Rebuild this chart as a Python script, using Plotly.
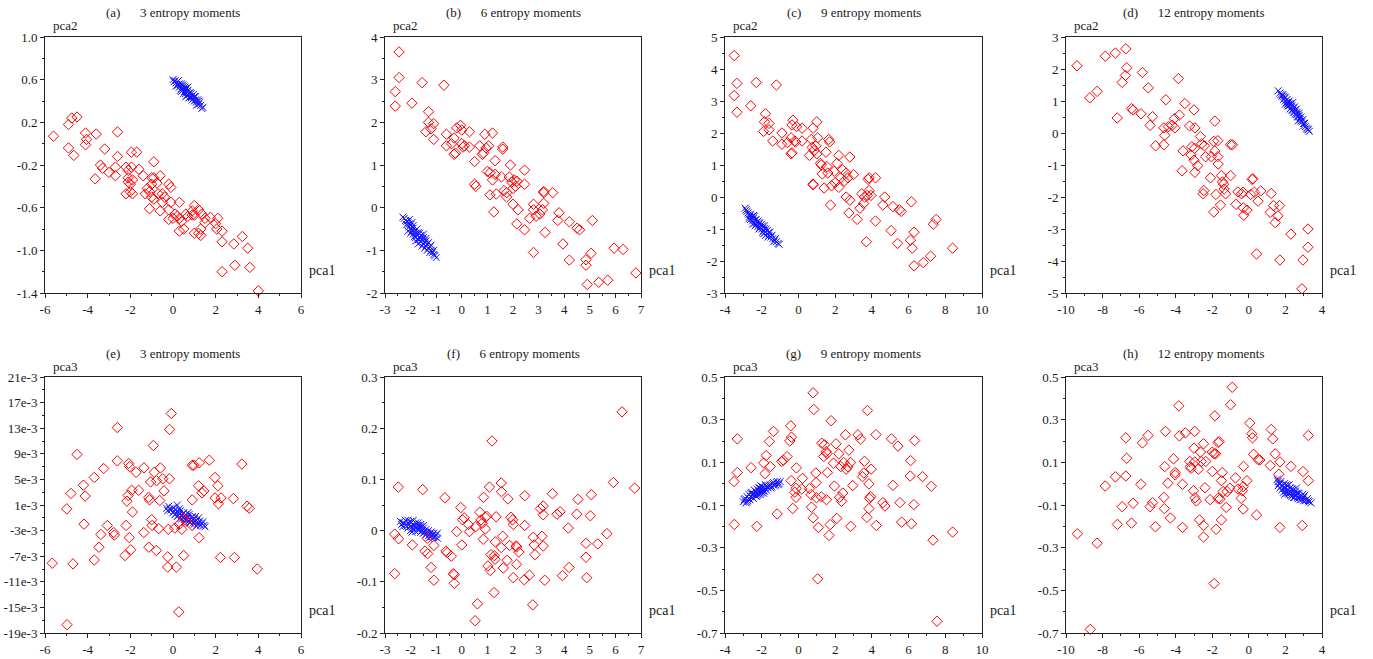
import plotly.graph_objects as go

W, H = 1373, 659

# ---------------- data ----------------
A_RED = [(-5.6,0.07),(-4.9,0.18),(-4.75,0.24),(-4.5,0.25),(-4.9,-0.04),(-4.65,-0.11),(-4.1,0.1),(-4.05,0.04),
 (-4.1,-0.01),(-3.6,0.09),(-3.2,-0.05),(-2.6,0.11),(-2.6,-0.12),(-3.4,-0.2),(-3.3,-0.23),(-3.65,-0.33),(-3.0,-0.27),
 (-2.7,-0.22),(-2.7,-0.3),(-2.2,-0.22),(-2.1,-0.25),(-2.1,-0.32),(-2.1,-0.36),(-2.0,-0.38),(-1.9,-0.34),(-1.95,-0.22),
 (-1.95,-0.08),(-1.7,-0.08),(-1.6,-0.24),(-1.4,-0.3),(-2.2,-0.47),(-2.0,-0.45),(-1.9,-0.47),(-1.3,-0.47),(-1.2,-0.42),
 (-1.1,-0.45),(-1.0,-0.32),(-1.0,-0.38),(-0.9,-0.17),(-0.9,-0.32),(-0.75,-0.37),(-0.6,-0.3),(-1.0,-0.5),(-0.9,-0.52),
 (-0.7,-0.47),(-0.5,-0.47),(-0.4,-0.5),(-0.5,-0.55),(-0.2,-0.38),(-0.1,-0.41),(-0.1,-0.55),(-1.1,-0.61),(-0.6,-0.63),
 (-0.2,-0.62),(-0.2,-0.71),(0.0,-0.7),(0.3,-0.55),(0.1,-0.66),(0.2,-0.68),(0.3,-0.7),(0.4,-0.73),(0.3,-0.82),(0.5,-0.8),
 (0.7,-0.68),(0.9,-0.63),(1.0,-0.58),(1.0,-0.67),(1.2,-0.62),(1.35,-0.66),(1.5,-0.74),(1.3,-0.8),(1.0,-0.84),(1.2,-0.84),
 (1.3,-0.86),(1.5,-0.7),(1.75,-0.69),(2.0,-0.75),(2.1,-0.7),(2.05,-0.8),(2.3,-0.82),(2.3,-0.92),(2.85,-0.94),(3.25,-0.87),
 (3.5,-0.98),(2.9,-1.14),(3.6,-1.16),(2.3,-1.2),(4.0,-1.38),(0.9,-0.67),(0.6,-0.66)]
A_BLUE = [(0.0,0.60),(0.1,0.59),(0.15,0.57),(0.2,0.58),(0.25,0.55),(0.3,0.56),(0.3,0.53),(0.35,0.54),(0.4,0.52),
 (0.45,0.55),(0.45,0.50),(0.5,0.51),(0.55,0.49),(0.6,0.52),(0.6,0.47),(0.65,0.49),(0.7,0.46),(0.7,0.50),(0.75,0.47),
 (0.8,0.44),(0.85,0.47),(0.85,0.43),(0.9,0.45),(0.95,0.42),(1.0,0.44),(1.0,0.40),(1.05,0.41),(1.1,0.39),(1.15,0.41),
 (1.2,0.37),(1.3,0.36),(1.4,0.34),(0.55,0.53),(0.75,0.43),(0.35,0.50),
 (0.05,0.58),(0.2,0.55),(0.25,0.59),(0.4,0.56),(0.5,0.54),(0.5,0.47),(0.65,0.52),(0.65,0.45),(0.8,0.48),(0.9,0.41),
 (0.95,0.46),(1.05,0.44),(1.1,0.36),(1.25,0.39),(1.35,0.33),(0.4,0.49),(0.6,0.44),(0.7,0.53),(1.2,0.40),(0.15,0.54)]

B_RED = [(-2.45,3.65),(-2.45,3.05),(-2.6,2.72),(-2.6,2.38),(-1.55,2.93),(-1.95,2.45),(-0.7,2.87),(-1.3,2.25),(-1.3,2.0),
 (-1.2,1.85),(-1.1,1.97),(-1.4,1.78),(-1.1,1.6),(-0.6,1.72),(-0.6,1.45),(-0.4,1.5),(-0.3,1.63),(-0.3,1.25),(-0.25,1.28),
 (-0.2,1.87),(-0.05,1.93),(0.0,1.82),(0.0,1.5),(0.05,1.42),(0.1,1.45),(0.3,1.78),(0.3,1.42),(0.5,1.08),(0.5,0.55),
 (0.55,0.5),(0.7,1.45),(0.8,1.25),(0.85,1.28),(0.9,1.72),(0.95,1.4),(1.05,1.45),(1.2,1.75),(1.3,1.1),(1.0,0.85),(1.1,0.82),
 (1.2,0.65),(1.3,0.78),(1.1,0.3),(1.35,0.32),(1.25,-0.1),(1.55,0.72),(1.6,1.37),(1.6,1.42),(1.65,0.4),(1.75,0.35),
 (1.75,0.25),(1.85,0.72),(1.9,1.0),(1.95,0.6),(2.0,0.45),(2.05,0.65),(2.1,0.5),(2.15,0.62),(2.0,0.08),(2.2,-0.05),
 (2.15,-0.38),(2.45,0.88),(2.45,0.55),(2.45,-0.52),(2.65,-0.25),(2.8,0.08),(2.8,-0.05),(2.8,-1.05),(2.9,-0.2),(3.05,-0.15),
 (3.15,-0.05),(3.2,0.1),(3.2,0.35),(3.2,0.38),(3.25,-0.58),(3.55,0.35),(3.75,-0.3),(3.8,-0.12),(3.95,-0.85),(4.2,-0.33),
 (4.2,-1.23),(4.5,-0.48),(4.6,-0.52),(4.85,-1.22),(4.85,-1.35),(4.9,-1.8),(5.05,-1.07),(5.1,-0.3),(5.35,-1.75),(5.7,-1.7),
 (5.95,-0.95),(6.3,-0.98),(6.8,-1.53)]
B_BLUE = [(-2.3,-0.22),(-2.2,-0.3),(-2.15,-0.4),(-2.1,-0.35),(-2.05,-0.45),(-2.0,-0.5),(-2.0,-0.4),(-1.95,-0.55),
 (-1.9,-0.48),(-1.9,-0.62),(-1.85,-0.55),(-1.8,-0.6),(-1.8,-0.7),(-1.75,-0.65),(-1.7,-0.58),(-1.7,-0.75),(-1.65,-0.7),
 (-1.6,-0.65),(-1.6,-0.8),(-1.55,-0.75),(-1.5,-0.7),(-1.5,-0.85),(-1.45,-0.8),(-1.4,-0.9),(-1.35,-0.85),(-1.3,-0.95),
 (-1.25,-0.92),(-1.2,-1.0),(-1.15,-1.05),(-1.1,-1.1),(-1.0,-1.17),(-2.1,-0.55),(-1.4,-0.72),(-1.95,-0.35),
 (-2.25,-0.25),(-2.15,-0.32),(-2.05,-0.38),(-2.0,-0.6),(-1.9,-0.42),(-1.85,-0.68),(-1.75,-0.5),(-1.7,-0.85),(-1.65,-0.6),
 (-1.6,-0.72),(-1.55,-0.9),(-1.5,-0.62),(-1.45,-0.95),(-1.4,-0.78),(-1.35,-1.0),(-1.3,-0.82),(-1.25,-1.05),(-1.2,-0.88),
 (-1.1,-1.0),(-1.05,-1.12),(-1.8,-0.78),(-2.05,-0.28)]

C_RED = [(-3.5,4.42),(-3.35,3.55),(-3.5,3.17),(-3.35,2.65),(-2.3,3.58),(-1.2,3.5),(-2.6,2.85),(-1.8,2.6),(-1.85,2.35),
 (-1.9,2.05),(-1.6,2.3),(-1.6,2.1),(-1.4,1.75),(-0.9,2.0),(-0.9,1.65),(-0.6,1.7),(-0.4,1.85),(-0.35,2.25),(-0.3,2.4),
 (-0.1,2.2),(-0.2,1.75),(-0.15,1.72),(0.2,2.15),(0.2,1.75),(-0.4,1.35),(-0.35,1.38),(0.6,1.3),(0.8,2.15),(0.7,1.8),
 (0.75,1.55),(0.85,1.45),(0.95,1.6),(1.0,2.35),(1.05,1.85),(1.0,1.35),(1.2,1.05),(1.25,1.0),(1.3,0.72),(0.8,0.4),
 (0.8,0.38),(1.4,0.28),(1.5,1.4),(1.55,0.95),(1.6,0.75),(1.65,1.8),(1.7,1.72),(1.8,0.35),(1.75,-0.25),(1.95,0.8),
 (2.0,0.45),(2.1,1.05),(2.2,1.3),(2.2,0.3),(2.3,0.6),(2.4,0.85),(2.5,0.5),(2.6,0.0),(2.6,0.75),(2.7,0.6),(2.75,-0.5),
 (2.8,1.25),(2.8,-0.1),(3.0,0.7),(3.2,-0.7),(3.35,-0.35),(3.45,0.1),(3.55,-0.2),(3.6,0.0),(3.75,0.05),(3.8,0.55),
 (3.85,0.2),(3.95,0.05),(3.85,0.6),(3.7,-1.4),(4.2,0.6),(4.2,-0.75),(4.6,-0.25),(4.7,0.0),(5.05,-1.05),(5.15,-0.3),
 (5.4,-1.45),(5.5,-0.4),(5.6,-0.45),(6.1,-1.35),(6.15,-0.15),(6.2,-1.6),(6.3,-1.1),(6.3,-2.15),(6.8,-2.05),(7.2,-1.85),
 (7.35,-0.85),(7.5,-0.7),(8.4,-1.6)]
C_BLUE = [(-2.9,-0.35),(-2.8,-0.45),(-2.7,-0.55),(-2.65,-0.6),(-2.6,-0.7),(-2.55,-0.62),(-2.5,-0.75),(-2.45,-0.68),
 (-2.4,-0.82),(-2.35,-0.72),(-2.3,-0.85),(-2.25,-0.78),(-2.2,-0.92),(-2.15,-0.8),(-2.1,-0.95),(-2.05,-0.88),(-2.0,-1.0),
 (-1.95,-0.9),(-1.9,-1.05),(-1.85,-0.98),(-1.8,-1.1),(-1.75,-1.0),(-1.7,-1.15),(-1.6,-1.2),(-1.55,-1.1),(-1.5,-1.25),
 (-1.4,-1.3),(-1.3,-1.35),(-1.2,-1.4),(-1.05,-1.48),(-2.4,-0.6),(-1.9,-1.15),
 (-2.85,-0.4),(-2.75,-0.5),(-2.7,-0.68),(-2.6,-0.55),(-2.5,-0.85),(-2.45,-0.58),(-2.35,-0.9),(-2.3,-0.7),(-2.2,-0.75),
 (-2.15,-1.0),(-2.1,-0.82),(-2.0,-0.85),(-1.95,-1.1),(-1.85,-0.9),(-1.8,-1.2),(-1.7,-1.05),(-1.65,-1.25),(-1.6,-1.1),
 (-1.45,-1.2),(-1.35,-1.4),(-1.25,-1.3),(-1.1,-1.45)]

D_RED = [(-9.4,2.1),(-8.7,1.1),(-8.3,1.3),(-7.85,2.4),(-7.3,2.5),(-6.73,2.63),(-6.68,2.04),(-6.75,1.8),(-6.93,1.58),
 (-7.2,0.47),(-6.42,0.76),(-6.33,0.72),(-5.82,1.89),(-5.5,1.41),(-5.9,0.6),(-5.27,0.51),(-5.4,0.24),(-5.1,-0.4),
 (-4.54,1.04),(-4.65,0.16),(-4.6,-0.07),(-4.65,-0.37),(-4.4,0.2),(-4.2,0.24),(-4.04,0.16),(-3.85,1.7),(-3.8,0.56),
 (-4.07,0.45),(-3.5,0.92),(-3.6,-0.56),(-3.65,-1.18),(-3.0,0.72),(-3.24,0.22),(-2.95,0.16),(-3.12,-0.43),(-3.16,-0.69),
 (-2.97,-0.48),(-3.0,-0.85),(-2.95,-1.23),(-2.8,-1.02),(-2.65,-0.11),(-2.58,-0.34),(-2.43,-0.4),(-2.37,-0.74),
 (-2.46,-1.8),(-2.5,-1.9),(-2.1,-1.4),(-2.05,-0.74),(-1.86,0.37),(-1.92,-0.26),(-1.86,-0.56),(-1.7,-0.74),(-1.68,-0.97),
 (-1.7,-0.24),(-1.92,-2.47),(-1.8,-1.92),(-1.5,-1.33),(-1.44,-1.53),(-1.38,-1.6),(-1.35,-1.75),(-1.55,-2.25),(-1.27,-1.9),
 (-1.0,-0.36),(-0.9,-0.37),(-1.0,-1.33),(-0.7,-2.23),(-0.6,-1.84),(-0.4,-1.9),(-0.32,-1.85),(-0.3,-2.34),(-0.28,-2.57),
 (-0.1,-2.41),(0.1,-1.92),(0.18,-1.45),(0.22,-1.43),(0.3,-1.85),(0.5,-2.13),(0.65,-1.81),(0.42,-3.78),(1.22,-1.89),
 (1.17,-2.48),(1.35,-2.27),(1.44,-2.8),(1.59,-2.59),(1.68,-2.27),(1.7,-3.97),(2.3,-3.16),(2.96,-3.97),(3.23,-3.0),
 (3.23,-3.57),(2.9,-4.87)]
D_BLUE = [(1.6,1.32),(1.7,1.25),(1.8,1.15),(1.85,1.2),(1.9,1.05),(1.95,1.12),(2.0,1.0),(2.05,0.95),(2.1,1.05),(2.1,0.88),
 (2.15,0.95),(2.2,0.85),(2.25,0.92),(2.3,0.78),(2.35,0.85),(2.4,0.7),(2.45,0.78),(2.5,0.65),(2.55,0.72),(2.6,0.58),
 (2.65,0.65),(2.7,0.5),(2.75,0.55),(2.8,0.42),(2.85,0.5),(2.9,0.35),(3.0,0.3),(3.1,0.2),(3.2,0.12),(3.3,0.05),(2.4,0.95),
 (2.7,0.38),
 (1.75,1.2),(1.9,1.15),(2.0,1.1),(2.0,0.9),(2.15,0.85),(2.2,1.0),(2.3,0.9),(2.35,0.72),(2.45,0.65),(2.5,0.82),(2.55,0.6),
 (2.6,0.75),(2.65,0.52),(2.75,0.62),(2.8,0.48),(2.85,0.38),(2.95,0.42),(3.0,0.22),(3.05,0.3),(3.15,0.15),(3.25,0.1),
 (2.25,0.75)]

# panel (e): pca3 values in units of 1e-3
E_RED = [(-5.66,-8.1),(-4.97,-17.7),(-4.98,0.4),(-4.78,2.8),(-4.69,-8.2),(-4.5,8.9),(-4.2,4.1),(-4.12,2.4),(-4.17,-2.0),
 (-3.69,5.3),(-3.69,-7.6),(-3.47,-5.6),(-3.38,-3.6),(-3.25,6.7),(-3.08,-2.2),(-2.78,-3.3),(-2.75,-3.7),(-2.61,13.1),
 (-2.61,7.9),(-2.25,-6.9),(-2.2,-2.2),(-2.16,1.6),(-2.1,2.5),(-2.08,7.5),(-2.03,7.0),(-2.05,-4.1),(-1.98,-6.0),(-1.9,-0.1),
 (-1.94,3.3),(-1.73,6.1),(-1.61,3.3),(-1.36,6.8),(-1.37,-3.3),(-1.13,-5.6),(-1.14,2.2),(-1.1,1.8),(-1.05,4.6),(-1.0,-1.3),
 (-0.98,-2.2),(-0.92,10.3),(-0.88,6.1),(-0.77,4.8),(-0.78,-6.1),(-0.67,-2.7),(-0.62,1.7),(-0.59,6.8),(-0.48,5.1),
 (-0.42,3.2),(-0.25,-7.1),(-0.25,-8.7),(-0.22,-2.8),(-0.17,5.1),(-0.16,12.8),(-0.08,15.3),(0.08,-2.6),(0.16,-8.7),
 (0.27,-15.7),(0.41,-2.8),(0.5,-6.9),(0.9,1.8),(0.9,7.2),(0.98,7.2),(1.23,7.6),(1.22,-4.1),(1.2,4.0),(1.36,2.9),(1.45,3.2),
 (1.7,8.0),(1.97,5.3),(1.97,2.1),(2.1,4.0),(2.13,1.2),(2.25,2.1),(2.22,-7.2),(2.83,2.0),(2.88,-7.2),(3.23,7.4),(3.47,0.8),
 (3.58,0.5),(3.95,-9.0),(0.3,-2.0),(0.6,-1.5),(0.9,-2.2),(0.5,-1.0)]
E_BLUE = [(-0.3,0.5),(-0.2,0.8),(-0.1,0.2),(0.0,0.6),(0.0,-0.2),(0.1,0.3),(0.1,-0.5),(0.2,0.0),(0.2,-0.8),(0.3,-0.3),
 (0.3,0.4),(0.4,-0.6),(0.4,-1.2),(0.5,-0.2),(0.5,-0.9),(0.6,-0.5),(0.6,-1.4),(0.7,-0.9),(0.7,-0.2),(0.8,-1.2),(0.8,-1.8),
 (0.9,-0.8),(0.9,-1.5),(1.0,-1.1),(1.0,-2.0),(1.1,-1.4),(1.2,-1.8),(1.2,-1.0),(1.3,-2.2),(1.4,-1.6),(1.5,-2.4),(0.2,1.0),
 (0.55,-1.7),(1.1,-2.3),
 (-0.25,0.1),(-0.15,0.4),(0.05,0.0),(0.15,-0.3),(0.25,-0.6),(0.35,0.1),(0.45,-0.4),(0.55,-1.2),(0.65,-0.7),(0.75,-1.5),
 (0.85,-1.0),(0.95,-1.8),(1.05,-1.6),(1.15,-2.0),(1.25,-1.5),(1.35,-1.9),(1.45,-2.2),(0.35,-1.0),(0.75,-0.5),(1.05,-0.8)]

F_RED = [(-2.62,-0.007),(-2.47,-0.016),(-2.62,-0.084),(-2.48,0.085),(-1.53,0.08),(-1.93,-0.028),(-1.44,-0.04),
 (-1.33,-0.045),(-1.35,-0.015),(-1.09,-0.029),(-1.2,-0.072),(-1.09,-0.097),(-0.66,0.064),(-0.62,-0.04),(-0.57,-0.043),
 (-0.41,-0.05),(-0.33,-0.084),(-0.3,-0.086),(-0.29,-0.103),(-0.2,-0.002),(-0.04,0.045),(0.0,-0.028),(0.03,0.021),
 (0.09,0.025),(0.26,0.012),(0.3,-0.002),(0.55,0.008),(0.52,-0.176),(0.61,-0.143),(0.7,0.036),(0.75,0.021),(0.79,0.014),
 (0.84,-0.017),(0.85,0.065),(0.92,0.026),(0.97,0.028),(0.92,0.003),(1.08,0.085),(1.02,-0.069),(1.11,-0.078),
 (1.14,-0.047),(1.18,0.175),(1.27,-0.049),(1.3,-0.056),(1.34,0.027),(1.31,-0.022),(1.26,-0.121),(1.54,0.093),
 (1.55,0.076),(1.6,-0.011),(1.54,-0.033),(1.62,-0.073),(1.77,-0.058),(1.8,0.062),(1.87,-0.029),(1.92,0.026),
 (1.98,0.021),(2.01,0.012),(2.01,-0.092),(2.12,-0.03),(2.14,-0.032),(2.14,-0.066),(2.23,-0.042),(2.46,0.068),
 (2.46,0.01),(2.44,-0.096),(2.64,-0.087),(2.79,-0.013),(2.83,-0.028),(2.86,-0.047),(2.77,-0.145),(3.07,0.043),
 (3.13,-0.011),(3.18,0.048),(3.18,0.031),(3.18,-0.03),(3.24,-0.097),(3.54,0.072),(3.72,0.032),(3.84,0.037),
 (3.93,-0.088),(4.16,0.005),(4.19,-0.072),(4.49,0.032),(4.54,0.061),(4.85,-0.025),(4.85,-0.052),(4.88,-0.092),
 (5.02,0.029),(5.06,0.07),(5.31,-0.026),(5.67,-0.006),(5.92,0.094),(6.26,0.232),(6.75,0.083)]
F_BLUE = [(-2.4,0.018),(-2.3,0.015),(-2.3,0.008),(-2.2,0.02),(-2.2,0.01),(-2.1,0.015),(-2.1,0.005),(-2.0,0.018),
 (-2.0,0.008),(-2.0,0.0),(-1.9,0.012),(-1.9,0.003),(-1.8,0.015),(-1.8,0.006),(-1.8,-0.002),(-1.7,0.01),(-1.7,0.0),
 (-1.6,0.008),(-1.6,-0.003),(-1.5,0.005),(-1.5,-0.005),(-1.4,0.002),(-1.4,-0.008),(-1.3,0.0),(-1.3,-0.01),(-1.2,-0.003),
 (-1.2,-0.012),(-1.1,-0.005),(-1.1,-0.014),(-1.0,-0.008),(-0.95,-0.015),(-1.9,0.02),(-1.6,0.012),
 (-2.35,0.012),(-2.25,0.015),(-2.15,0.008),(-2.05,0.012),(-1.95,0.007),(-1.85,0.01),(-1.75,0.004),(-1.65,0.005),
 (-1.55,0.0),(-1.45,-0.003),(-1.35,-0.005),(-1.25,-0.007),(-1.15,-0.01),(-1.05,-0.012),(-2.1,0.02),(-1.7,0.015),
 (-1.5,0.01),(-1.3,-0.015),(-0.95,-0.005),(-1.95,-0.003)]

G_RED = [(-3.51,0.01),(-3.33,0.21),(-3.33,0.052),(-3.49,-0.191),(-2.58,0.075),(-2.27,-0.2),(-1.89,0.097),(-1.76,0.132),
 (-1.82,0.047),(-1.58,0.198),(-1.53,0.08),(-1.36,0.245),(-1.16,-0.142),(-0.91,0.104),(-0.82,0.11),(-0.62,0.127),
 (-0.42,0.271),(-0.38,0.218),(-0.47,0.2),(-0.4,0.014),(-0.31,-0.116),(-0.11,0.074),(-0.13,-0.022),(-0.13,-0.064),
 (-0.2,-0.04),(0.22,0.025),(0.18,-0.025),(0.6,-0.023),(0.69,-0.051),(0.71,-0.11),(0.8,-0.16),(0.8,0.426),(0.84,0.348),
 (0.95,0.05),(0.96,0.005),(0.98,-0.066),(1.09,-0.205),(1.05,-0.446),(1.25,-0.062),(1.27,0.19),(1.42,0.182),(1.38,0.127),
 (1.51,0.15),(1.56,0.141),(1.58,0.052),(1.53,-0.075),(1.67,-0.243),(1.73,-0.192),(1.78,0.295),(1.91,0.096),(1.96,-0.011),
 (2.05,0.187),(2.09,-0.163),(2.2,0.14),(2.24,-0.064),(2.31,0.08),(2.35,-0.083),(2.42,-0.044),(2.47,0.099),(2.56,0.229),
 (2.6,0.068),(2.69,0.079),(2.75,0.157),(2.84,0.099),(2.85,-0.2),(2.96,-0.009),(3.24,0.229),(3.38,0.209),(3.49,0.033),
 (3.56,0.05),(3.6,0.105),(3.73,-0.158),(3.76,0.343),(3.84,-0.001),(3.84,-0.117),(3.87,-0.069),(3.93,-0.061),(3.96,0.068),
 (4.22,0.23),(4.24,-0.196),(4.6,-0.089),(4.71,-0.105),(5.07,0.21),(5.15,-0.008),(5.42,0.176),(5.53,-0.089),(5.62,-0.18),
 (6.11,0.108),(6.09,0.036),(6.16,-0.188),(6.29,-0.098),(6.33,0.202),(6.76,0.033),(7.24,-0.012),(7.33,-0.265),
 (7.55,-0.645),(8.4,-0.227)]
G_BLUE = [(-3.0,-0.085),(-2.9,-0.07),(-2.85,-0.09),(-2.8,-0.06),(-2.75,-0.08),(-2.7,-0.05),(-2.65,-0.075),(-2.6,-0.06),
 (-2.55,-0.04),(-2.5,-0.065),(-2.45,-0.05),(-2.4,-0.03),(-2.35,-0.055),(-2.3,-0.04),(-2.25,-0.025),(-2.2,-0.05),
 (-2.15,-0.035),(-2.1,-0.02),(-2.05,-0.045),(-2.0,-0.03),(-1.95,-0.015),(-1.9,-0.035),(-1.85,-0.02),(-1.8,-0.005),
 (-1.75,-0.03),(-1.7,-0.015),(-1.6,-0.01),(-1.5,-0.02),(-1.4,0.0),(-1.3,-0.01),(-1.2,0.005),(-1.1,-0.005),(-1.0,0.01),
 (-2.3,-0.06),(-1.9,-0.045),
 (-2.95,-0.075),(-2.8,-0.085),(-2.7,-0.07),(-2.6,-0.045),(-2.5,-0.05),(-2.45,-0.07),(-2.35,-0.035),(-2.25,-0.055),
 (-2.15,-0.02),(-2.1,-0.05),(-2.0,-0.04),(-1.95,-0.025),(-1.85,-0.035),(-1.75,-0.01),(-1.65,-0.02),(-1.55,-0.005),
 (-1.45,-0.015),(-1.35,0.005),(-1.25,-0.005),(-1.15,0.01),(-1.05,0.0),(-2.05,-0.01)]

H_RED = [(-9.38,-0.235),(-8.3,-0.279),(-8.67,-0.683),(-7.85,-0.011),(-7.3,0.032),(-7.19,-0.191),(-6.93,-0.108),
 (-6.73,0.215),(-6.68,0.119),(-6.73,0.036),(-6.42,-0.185),(-6.33,-0.092),(-5.91,-0.003),(-5.82,0.191),(-5.51,0.226),
 (-5.4,-0.108),(-5.27,-0.089),(-5.11,-0.202),(-4.65,-0.064),(-4.62,-0.117),(-4.56,0.245),(-4.6,0.08),(-4.43,0.002),
 (-4.29,-0.161),(-4.12,0.116),(-4.03,0.052),(-4.03,0.041),(-3.83,0.365),(-3.8,0.224),(-3.63,-0.003),(-3.63,-0.205),
 (-3.47,0.238),(-3.23,0.104),(-3.2,0.08),(-3.16,0.072),(-3.03,-0.033),(-2.96,0.245),(-3.0,0.166),(-2.96,0.102),
 (-2.94,-0.066),(-2.87,-0.081),(-2.76,0.068),(-2.7,-0.17),(-2.65,0.148),(-2.6,0.104),(-2.48,0.187),(-2.48,-0.196),
 (-2.48,-0.25),(-2.4,-0.019),(-2.36,0.104),(-2.12,-0.075),(-2.0,0.057),(-2.0,0.148),(-1.9,0.14),(-1.86,0.318),
 (-1.82,0.14),(-1.79,-0.214),(-1.9,-0.468),(-1.68,0.193),(-1.62,0.197),(-1.68,-0.069),(-1.57,-0.072),(-1.5,0.014),
 (-1.46,0.052),(-1.5,-0.17),(-1.41,-0.037),(-1.24,-0.111),(-1.19,-0.037),(-1.04,-0.021),(-1.0,0.37),(-0.91,0.452),
 (-0.73,0.027),(-0.6,-0.025),(-0.36,-0.033),(-0.42,-0.069),(-0.31,-0.014),(-0.31,-0.119),(-0.29,0.081),(-0.11,0.014),
 (0.05,0.284),(0.16,0.234),(0.2,0.215),(0.26,0.138),(0.42,-0.147),(0.51,0.113),(0.6,0.111),(1.17,0.085),(1.22,0.254),
 (1.31,0.21),(1.44,0.14),(1.64,0.044),(1.7,0.102),(1.7,-0.205),(2.3,0.081),(2.96,0.057),(2.92,-0.196),(3.25,0.014),
 (3.25,0.226)]
H_BLUE = [(1.55,0.02),(1.6,-0.01),(1.65,0.0),(1.7,-0.02),(1.75,0.01),(1.8,-0.03),(1.85,-0.01),(1.9,-0.04),(1.95,0.0),
 (2.0,-0.02),(2.05,-0.045),(2.1,-0.01),(2.15,-0.03),(2.2,-0.05),(2.25,-0.02),(2.3,-0.04),(2.35,-0.06),(2.4,-0.03),
 (2.45,-0.05),(2.5,-0.065),(2.55,-0.035),(2.6,-0.055),(2.7,-0.07),(2.75,-0.045),(2.8,-0.06),(2.9,-0.075),(2.95,-0.05),
 (3.0,-0.065),(3.1,-0.08),(3.2,-0.07),(3.3,-0.085),(3.4,-0.09),(2.2,-0.005),(2.6,-0.02),
 (1.6,0.01),(1.7,0.0),(1.8,-0.01),(1.9,-0.02),(2.0,-0.035),(2.05,-0.005),(2.15,-0.045),(2.25,-0.04),(2.3,-0.055),
 (2.4,-0.045),(2.45,-0.065),(2.55,-0.05),(2.65,-0.045),(2.65,-0.065),(2.8,-0.075),(2.85,-0.06),(3.0,-0.08),(3.05,-0.055),
 (3.15,-0.075),(3.25,-0.08),(2.35,-0.025),(1.95,-0.05)]

TITLES = ["(a)", "(b)", "(c)", "(d)", "(e)", "(f)", "(g)", "(h)"]
MOMENTS = [3, 6, 9, 12, 3, 6, 9, 12]
Y_NAMES = ["pca2"] * 4 + ["pca3"] * 4
X_NAME = "pca1"

X_TICKS = [
    [-6, -4, -2, 0, 2, 4, 6], [-3, -2, -1, 0, 1, 2, 3, 4, 5, 6, 7],
    [-4, -2, 0, 2, 4, 6, 8, 10], [-10, -8, -6, -4, -2, 0, 2, 4],
]
Y_TICKS_TOP = [
    [1.0, 0.6, 0.2, -0.2, -0.6, -1.0, -1.4], [4, 3, 2, 1, 0, -1, -2],
    [5, 4, 3, 2, 1, 0, -1, -2, -3], [3, 2, 1, 0, -1, -2, -3, -4, -5],
]
Y_TICKS_E = [21, 17, 13, 9, 5, 1, -3, -7, -11, -15, -19]  # x 1e-3
Y_TICKS_F = [0.3, 0.2, 0.1, 0.0, -0.1, -0.2]
Y_TICKS_GH = [0.5, 0.3, 0.1, -0.1, -0.3, -0.5, -0.7]

# ---------------- layout ----------------
COLS = [(45, 301), (385, 641), (725, 982), (1066, 1322)]
ROWS = [(37, 293), (377, 633)]
FONT = "Liberation Serif, Times New Roman, serif"
TXT = "#1a1a1a"

panels = []
for r in range(2):
    for c in range(4):
        xt = X_TICKS[c]
        xlab = [str(v) for v in xt]
        xminor = (xt[1] - xt[0]) / 2
        if r == 0:
            yt = Y_TICKS_TOP[c]
            ylab = [f"{v:.1f}" if c == 0 else str(v) for v in yt]
            yminor = abs(yt[0] - yt[1]) / 2
        elif c == 0:
            yt = [v * 1e-3 for v in Y_TICKS_E]
            ylab = [f"{v}e-3" for v in Y_TICKS_E]
            yminor = 2e-3
        elif c == 1:
            yt = Y_TICKS_F
            ylab = [f"{v:.1f}" if v != 0 else "0" for v in yt]
            yminor = 0.05
        else:
            yt = Y_TICKS_GH
            ylab = [f"{v:.1f}" for v in yt]
            yminor = 0.1
        panels.append(dict(r=r, c=c, xt=xt, xlab=xlab, xminor=xminor,
                           yt=yt, ylab=ylab, yminor=yminor))

REDS = [A_RED, B_RED, C_RED, D_RED, E_RED, F_RED, G_RED, H_RED]
BLUES = [A_BLUE, B_BLUE, C_BLUE, D_BLUE, E_BLUE, F_BLUE, G_BLUE, H_BLUE]
YSCALE = [1, 1, 1, 1, 1e-3, 1, 1, 1]

fig = go.Figure()
annotations = []
layout = {}
for i, p in enumerate(panels):
    n = "" if i == 0 else str(i + 1)
    xa, ya = "x" + n, "y" + n
    x0, x1 = COLS[p["c"]]
    y0, y1 = ROWS[p["r"]]
    s = YSCALE[i]
    bx = [q[0] for q in BLUES[i]]
    by = [q[1] * s for q in BLUES[i]]
    rx = [q[0] for q in REDS[i]]
    ry = [q[1] * s for q in REDS[i]]
    fig.add_trace(go.Scatter(x=bx, y=by, mode="markers", xaxis=xa, yaxis=ya, cliponaxis=False,
                             showlegend=False, hoverinfo="skip",
                             marker=dict(symbol="x-thin-open", size=7, color="rgb(20,20,255)",
                                         line=dict(width=1, color="rgb(20,20,255)"))))
    fig.add_trace(go.Scatter(x=rx, y=ry, mode="markers", xaxis=xa, yaxis=ya, cliponaxis=False,
                             showlegend=False, hoverinfo="skip",
                             marker=dict(symbol="diamond-open", size=8, color="rgb(255,0,0)",
                                         line=dict(width=1, color="rgb(255,0,0)"))))
    common = dict(showgrid=False, zeroline=False, showline=True, linecolor="#222", linewidth=1,
                  mirror=True, ticks="outside", ticklen=4, tickcolor="#222", tickwidth=1,
                  automargin=False, tickmode="array",
                  tickfont=dict(family=FONT, size=13, color=TXT))
    layout["xaxis" + n] = dict(common, domain=[x0 / W, x1 / W], anchor=ya,
                               range=[p["xt"][0], p["xt"][-1]], tickvals=p["xt"], ticktext=p["xlab"],
                               minor=dict(ticks="outside", ticklen=2, tickcolor="#222",
                                          tick0=p["xt"][0], dtick=p["xminor"]))
    ymin, ymax = min(p["yt"]), max(p["yt"])
    layout["yaxis" + n] = dict(common, domain=[1 - y1 / H, 1 - y0 / H], anchor=xa,
                               range=[ymin, ymax], tickvals=p["yt"], ticktext=p["ylab"],
                               minor=dict(ticks="outside", ticklen=2, tickcolor="#222",
                                          tick0=ymin, dtick=p["yminor"]))
    cx = (x0 + x1) / 2
    annotations.append(dict(xref="paper", yref="paper", x=cx / W, y=1 - (y0 - 24) / H,
                            text=f"{TITLES[i]}" + "\u00a0" * 6 + f"{MOMENTS[i]} entropy moments",
                            showarrow=False, xanchor="center", yanchor="middle",
                            font=dict(family=FONT, size=13, color=TXT)))
    annotations.append(dict(xref="paper", yref="paper", x=(x0 + 6) / W, y=1 - (y0 - 11) / H,
                            text=Y_NAMES[i], showarrow=False, xanchor="left", yanchor="middle",
                            font=dict(family=FONT, size=13, color=TXT)))
    annotations.append(dict(xref="paper", yref="paper", x=(x1 + 6) / W, y=1 - (y1 - 23) / H,
                            text=X_NAME, showarrow=False, xanchor="left", yanchor="middle",
                            font=dict(family=FONT, size=14, color=TXT)))

fig.update_layout(width=W, height=H, margin=dict(l=0, r=0, t=0, b=0, pad=0),
                  paper_bgcolor="white", plot_bgcolor="white",
                  annotations=annotations, **layout)
fig.write_html("out.html", config={"displayModeBar": False},
               post_script="document.body.style.margin='0px';document.body.style.overflow='hidden';")
